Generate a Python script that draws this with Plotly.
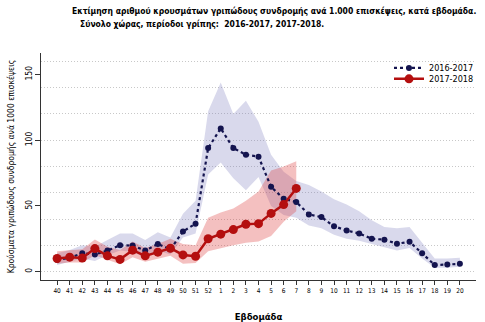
import plotly.graph_objects as go

weeks = ["40", "41", "42", "43", "44", "45", "46", "47", "48", "49", "50", "51", "52",
         "1", "2", "3", "4", "5", "6", "7", "8", "9", "10", "11", "12", "13", "14",
         "15", "16", "17", "18", "19", "20"]

# 2016-2017 season
s1617_mean = [9, 10.5, 14, 13, 16, 20, 19.8, 16, 21, 17, 30.5, 36.5, 94,
              109, 94, 89, 87.5, 64.5, 55.5, 53, 43.5, 41.5, 34.5, 31.3, 29, 25, 24.3,
              21.2, 22.7, 14, 5, 5.4, 5.9]
s1617_upper = [14, 16.5, 20, 19, 24, 29, 29, 24, 30, 26, 44, 54, 122,
               144, 120, 130, 114, 89, 76, 69, 66, 61, 55, 51, 46, 39, 34,
               33, 34, 22, 10, 10, 10.5]
s1617_lower = [5, 7.5, 10, 8, 12.5, 16, 15, 11, 16, 13, 26, 29, 74,
               83, 71, 62, 72, 50, 43, 41, 35, 33, 28, 25, 23.5, 21, 18.5,
               16, 18, 10, 3, 3, 3.6]

# 2017-2018 season (weeks 40 .. 7)
s1718_weeks = weeks[:20]
s1718_mean = [10, 11, 10.3, 17.5, 12, 9.3, 16.3, 12, 14.8, 17.8, 12.7, 11.7, 25,
              28.5, 32, 36, 36.5, 44.3, 51, 63.3]
s1718_upper = [15.5, 16.5, 17, 24.5, 19, 16.5, 23, 18, 21, 25, 21, 20, 41,
               45, 48, 54, 61, 77, 80, 84]
s1718_lower = [6, 7, 7, 12.5, 9, 5.5, 11, 7.5, 10, 12, 6, 6.5, 15.5,
               18, 20, 22, 23, 27, 38, 46]

yticks = [0, 50, 100, 150]

title_line1 = "Εκτίμηση αριθμού κρουσμάτων γριπώδους συνδρομής ανά 1.000 επισκέψεις, κατά εβδομάδα."
title_line2 = "Σύνολο χώρας, περίοδοι γρίπης:  2016-2017, 2017-2018."

navy = "#14144f"
red = "#b40f0f"
font = "Liberation Sans Narrow, DejaVu Sans Condensed, Roboto Condensed, Arial Narrow, sans-serif"

fig = go.Figure()

fig.add_trace(go.Scatter(
    x=weeks + weeks[::-1], y=s1617_upper + s1617_lower[::-1],
    fill="toself", fillcolor="rgba(120,120,185,0.28)", line=dict(width=0),
    mode="lines", showlegend=False, hoverinfo="skip"))
fig.add_trace(go.Scatter(
    x=s1718_weeks + s1718_weeks[::-1], y=s1718_upper + s1718_lower[::-1],
    fill="toself", fillcolor="rgba(220,60,60,0.32)", line=dict(width=0),
    mode="lines", showlegend=False, hoverinfo="skip"))

fig.add_trace(go.Scatter(
    x=weeks, y=s1617_mean, name="2016-2017", mode="lines+markers",
    line=dict(color=navy, width=2.2, dash="dot"),
    marker=dict(color=navy, size=6), legend="legend"))
fig.add_trace(go.Scatter(
    x=s1718_weeks, y=s1718_mean, name="2017-2018", mode="lines+markers",
    line=dict(color=red, width=2.5),
    marker=dict(color=red, size=9), legend="legend2"))

# dotted horizontal gridlines every 20 via an overlaid axis
fig.add_trace(go.Scatter(x=[weeks[0]], y=[0], yaxis="y2", mode="markers",
                         marker=dict(opacity=0), showlegend=False, hoverinfo="skip"))

fig.add_annotation(text="<b>" + title_line1 + "</b>", xref="paper", yref="paper",
                   x=(70.7 - 41) / 438, y=1 + (53 - 11) / 227, xanchor="left", yanchor="middle",
                   showarrow=False, font=dict(size=8.5, family=font, color="black"))
fig.add_annotation(text="<b>" + title_line2 + "</b>", xref="paper", yref="paper",
                   x=(78 - 41) / 438, y=1 + (53 - 24) / 227, xanchor="left", yanchor="middle",
                   showarrow=False, font=dict(size=8.5, family=font, color="black"))

leg_common = dict(xanchor="left", yanchor="top", bgcolor="rgba(0,0,0,0)",
                  font=dict(size=9, family=font, color="black"))

fig.update_layout(
    template="none",
    width=485, height=322,
    margin=dict(l=41, r=6, t=53, b=42),
    paper_bgcolor="white", plot_bgcolor="white",
    font=dict(family=font, color="black", size=8),
    xaxis=dict(
        type="category", range=[-1.28, 33.28],
        showline=True, linecolor="#333", linewidth=1,
        ticks="outside", ticklen=4, tickcolor="#333",
        tickfont=dict(size=6.5, color="black"), showgrid=False, zeroline=False,
        title=dict(text="<b>Εβδομάδα</b>", font=dict(size=9.5, color="black"), standoff=20)),
    yaxis=dict(
        range=[-6.4, 166.4], tickvals=yticks, tickangle=-90,
        showline=True, linecolor="#333", linewidth=1,
        ticks="outside", ticklen=5, tickcolor="#333",
        tickfont=dict(size=8.5, color="black"), showgrid=False, zeroline=False,
        title=dict(text="Κρούσματα γριπώδους συνδρομής ανά 1000 επισκέψεις",
                   font=dict(size=8.5, color="black"), standoff=7)),
    yaxis2=dict(
        overlaying="y", range=[-6.4, 166.4], dtick=20, tick0=0,
        showgrid=True, gridcolor="#c8c8c8", griddash="1px,2px", gridwidth=1,
        showticklabels=False, zeroline=False, showline=False, ticks="",
        layer="below traces"),
    legend=dict(x=0.80, y=0.998, **leg_common),
    legend2=dict(x=0.80, y=0.950, **leg_common),
)

fig.write_html("out.html")
